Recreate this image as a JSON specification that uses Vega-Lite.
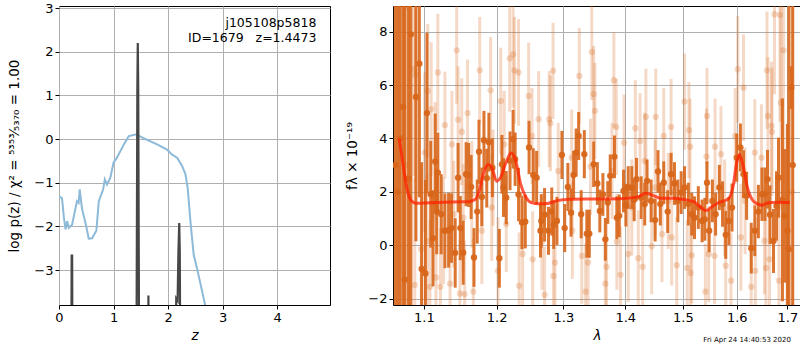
{
"$schema": "https://vega.github.io/schema/vega-lite/v6.json",
"background": "white",
"padding": {"left": 7, "top": 1, "right": 1, "bottom": 2},
"config": {
 "font": "DejaVu Sans",
 "view": {"stroke": "black", "strokeWidth": 1},
 "axis": {"grid": true, "gridColor": "#b0b0b0", "gridWidth": 1, "domain": false, "tickColor": "black", "tickSize": 4, "labelPadding": 2, "labelFlush": false, "labelFontSize": 13, "labelColor": "black", "titleFontSize": 13.5, "titleFontWeight": "normal", "titleColor": "black", "labelFont": "DejaVu Sans", "titleFont": "DejaVu Sans"},
 "concat": {"spacing": 14}
},
"datasets": {
 "pz": [
  {"z":0.0,"logp":-1.31},{"z":0.055,"logp":-1.35},{"z":0.09,"logp":-1.8},{"z":0.12,"logp":-2.07},{"z":0.15,"logp":-1.88},{"z":0.18,"logp":-2.03},{"z":0.24,"logp":-1.96},{"z":0.33,"logp":-1.42},{"z":0.36,"logp":-1.46},{"z":0.38,"logp":-1.15},{"z":0.42,"logp":-1.58},{"z":0.5,"logp":-2.0},{"z":0.545,"logp":-2.28},{"z":0.605,"logp":-2.27},{"z":0.685,"logp":-2.1},{"z":0.73,"logp":-1.42},{"z":0.81,"logp":-1.15},{"z":0.84,"logp":-0.92},{"z":0.88,"logp":-1.04},{"z":0.94,"logp":-0.89},{"z":1.0,"logp":-0.54},{"z":1.06,"logp":-0.43},{"z":1.19,"logp":-0.12},{"z":1.28,"logp":0.07},{"z":1.42,"logp":0.11},{"z":1.55,"logp":0.02},{"z":1.8,"logp":-0.12},{"z":1.98,"logp":-0.24},{"z":2.07,"logp":-0.35},{"z":2.17,"logp":-0.43},{"z":2.26,"logp":-0.62},{"z":2.32,"logp":-0.81},{"z":2.36,"logp":-1.12},{"z":2.41,"logp":-1.88},{"z":2.47,"logp":-2.65},{"z":2.53,"logp":-2.95},{"z":2.68,"logp":-3.8},{"z":2.75,"logp":-4.3}
 ],
 "spk": [
  {"z":0.0,"logp":-6},{"z":0.224,"logp":-6},{"z":0.232,"logp":-2.67},{"z":0.241,"logp":-2.67},{"z":0.249,"logp":-6},
  {"z":1.418,"logp":-6},{"z":1.437,"logp":1.2},{"z":1.445,"logp":2.2},{"z":1.453,"logp":1.2},{"z":1.472,"logp":-6},
  {"z":1.632,"logp":-6},{"z":1.64,"logp":-3.58},{"z":1.648,"logp":-6},
  {"z":2.13,"logp":-6},{"z":2.15,"logp":-3.65},{"z":2.175,"logp":-3.7},{"z":2.19,"logp":-2.6},{"z":2.205,"logp":-1.92},{"z":2.215,"logp":-2.6},{"z":2.228,"logp":-6},{"z":4.97,"logp":-6}
 ],
 "model": [
  {"lam":1.068,"f":4.0},{"lam":1.073,"f":3.0},{"lam":1.078,"f":2.1},{"lam":1.084,"f":1.65},{"lam":1.09,"f":1.57},{"lam":1.1,"f":1.58},{"lam":1.12,"f":1.6},{"lam":1.14,"f":1.62},{"lam":1.16,"f":1.63},{"lam":1.17,"f":1.72},{"lam":1.176,"f":2.1},{"lam":1.181,"f":2.65},{"lam":1.188,"f":3.02},{"lam":1.194,"f":2.85},{"lam":1.2,"f":2.4},{"lam":1.206,"f":2.55},{"lam":1.213,"f":3.05},{"lam":1.221,"f":3.45},{"lam":1.228,"f":3.15},{"lam":1.235,"f":2.3},{"lam":1.243,"f":1.8},{"lam":1.251,"f":1.6},{"lam":1.262,"f":1.55},{"lam":1.275,"f":1.56},{"lam":1.29,"f":1.67},{"lam":1.31,"f":1.72},{"lam":1.35,"f":1.73},{"lam":1.39,"f":1.74},{"lam":1.42,"f":1.8},{"lam":1.435,"f":1.95},{"lam":1.448,"f":1.86},{"lam":1.46,"f":1.76},{"lam":1.48,"f":1.76},{"lam":1.5,"f":1.72},{"lam":1.52,"f":1.62},{"lam":1.533,"f":1.42},{"lam":1.542,"f":1.3},{"lam":1.552,"f":1.42},{"lam":1.566,"f":1.6},{"lam":1.583,"f":1.72},{"lam":1.593,"f":2.2},{"lam":1.6,"f":3.1},{"lam":1.605,"f":3.4},{"lam":1.612,"f":3.0},{"lam":1.62,"f":2.2},{"lam":1.63,"f":1.7},{"lam":1.64,"f":1.55},{"lam":1.65,"f":1.5},{"lam":1.66,"f":1.58},{"lam":1.68,"f":1.61},{"lam":1.705,"f":1.6}
 ],
 "spec": [
  {"lam":1.063,"f":3.0,"e":30,"k":"d"},{"lam":1.066,"f":2.0,"e":30,"k":"d"},{"lam":1.069,"f":4.0,"e":30,"k":"d"},{"lam":1.073,"f":5.18,"e":30,"k":"d"},{"lam":1.075,"f":-1.29,"e":30,"k":"d"},{"lam":1.08,"f":2.5,"e":9,"k":"d"},{"lam":1.083,"f":7.9,"e":12,"k":"d"},{"lam":1.0895,"f":5.55,"e":5.4,"k":"d"},{"lam":1.094,"f":6.8,"e":5,"k":"d"},{"lam":1.097,"f":-0.89,"e":4,"k":"d"},{"lam":1.102,"f":-1.06,"e":3.5,"k":"d"},{"lam":1.104,"f":4.95,"e":3,"k":"d"},{"lam":1.109,"f":1.91,"e":2,"k":"d"},{"lam":1.112,"f":0.26,"e":1.8,"k":"d"},{"lam":1.115,"f":3.13,"e":1.8,"k":"d"},{"lam":1.117,"f":1.26,"e":1.6,"k":"d"},{"lam":1.1185,"f":2.72,"e":1.5,"k":"d"},{"lam":1.123,"f":1.16,"e":1.5,"k":"d"},{"lam":1.128,"f":0.54,"e":1.4,"k":"d"},{"lam":1.133,"f":0.56,"e":1.4,"k":"d"},{"lam":1.137,"f":0.64,"e":1.3,"k":"d"},{"lam":1.142,"f":-0.29,"e":1.3,"k":"d"},{"lam":1.146,"f":2.53,"e":1.3,"k":"d"},{"lam":1.149,"f":0.64,"e":1.2,"k":"d"},{"lam":1.153,"f":-0.28,"e":1.2,"k":"d"},{"lam":1.157,"f":2.66,"e":1.2,"k":"d"},{"lam":1.1605,"f":2.63,"e":1.2,"k":"d"},{"lam":1.164,"f":2.18,"e":1.2,"k":"d"},{"lam":1.168,"f":-0.46,"e":1.1,"k":"d"},{"lam":1.1725,"f":1.26,"e":1.2,"k":"d"},{"lam":1.175,"f":3.5,"e":1.2,"k":"d"},{"lam":1.179,"f":1.81,"e":1.1,"k":"d"},{"lam":1.182,"f":3.93,"e":1.1,"k":"d"},{"lam":1.186,"f":2.51,"e":1.1,"k":"d"},{"lam":1.189,"f":3.86,"e":1.1,"k":"d"},{"lam":1.194,"f":2.9,"e":1.1,"k":"d"},{"lam":1.204,"f":-0.49,"e":1.1,"k":"d"},{"lam":1.2077,"f":3.03,"e":1.1,"k":"d"},{"lam":1.21,"f":2.16,"e":1.1,"k":"d"},{"lam":1.214,"f":1.78,"e":1.0,"k":"d"},{"lam":1.2195,"f":3.16,"e":1.1,"k":"d"},{"lam":1.224,"f":3.97,"e":1.1,"k":"d"},{"lam":1.227,"f":3.22,"e":1.0,"k":"d"},{"lam":1.232,"f":1.9,"e":1.0,"k":"d"},{"lam":1.237,"f":0.85,"e":1.0,"k":"d"},{"lam":1.242,"f":0.88,"e":1.0,"k":"d"},{"lam":1.2476,"f":3.66,"e":1.0,"k":"d"},{"lam":1.254,"f":2.63,"e":1.0,"k":"d"},{"lam":1.259,"f":2.53,"e":1.0,"k":"d"},{"lam":1.2648,"f":0.54,"e":1.0,"k":"d"},{"lam":1.266,"f":0.91,"e":1.0,"k":"d"},{"lam":1.271,"f":1.14,"e":1.0,"k":"d"},{"lam":1.277,"f":0.54,"e":0.9,"k":"d"},{"lam":1.282,"f":1.26,"e":0.9,"k":"d"},{"lam":1.285,"f":0.76,"e":0.9,"k":"d"},{"lam":1.29,"f":0.91,"e":0.9,"k":"d"},{"lam":1.2977,"f":3.38,"e":0.9,"k":"d"},{"lam":1.302,"f":0.64,"e":0.9,"k":"d"},{"lam":1.307,"f":2.18,"e":0.9,"k":"d"},{"lam":1.312,"f":1.22,"e":0.9,"k":"d"},{"lam":1.316,"f":2.63,"e":0.9,"k":"d"},{"lam":1.32,"f":3.47,"e":0.9,"k":"d"},{"lam":1.324,"f":4.09,"e":0.9,"k":"d"},{"lam":1.328,"f":1.16,"e":0.9,"k":"d"},{"lam":1.333,"f":3.41,"e":0.9,"k":"d"},{"lam":1.337,"f":0.43,"e":0.9,"k":"d"},{"lam":1.341,"f":0.43,"e":0.9,"k":"d"},{"lam":1.348,"f":3.03,"e":0.85,"k":"d"},{"lam":1.354,"f":2.31,"e":0.8,"k":"d"},{"lam":1.358,"f":1.28,"e":0.8,"k":"d"},{"lam":1.363,"f":1.9,"e":0.8,"k":"d"},{"lam":1.367,"f":0.22,"e":0.8,"k":"d"},{"lam":1.371,"f":1.6,"e":0.8,"k":"d"},{"lam":1.375,"f":2.6,"e":0.8,"k":"d"},{"lam":1.382,"f":3.31,"e":0.8,"k":"d"},{"lam":1.386,"f":1.03,"e":0.8,"k":"d"},{"lam":1.39,"f":1.1,"e":0.8,"k":"d"},{"lam":1.397,"f":2.03,"e":0.8,"k":"d"},{"lam":1.401,"f":1.5,"e":0.8,"k":"d"},{"lam":1.405,"f":2.16,"e":0.8,"k":"d"},{"lam":1.411,"f":2.16,"e":0.8,"k":"d"},{"lam":1.415,"f":1.7,"e":0.8,"k":"d"},{"lam":1.419,"f":2.47,"e":0.8,"k":"d"},{"lam":1.427,"f":1.78,"e":0.8,"k":"d"},{"lam":1.433,"f":1.54,"e":0.8,"k":"d"},{"lam":1.437,"f":2.41,"e":0.8,"k":"d"},{"lam":1.444,"f":1.66,"e":0.8,"k":"d"},{"lam":1.451,"f":0.94,"e":0.8,"k":"d"},{"lam":1.456,"f":2.76,"e":0.8,"k":"d"},{"lam":1.46,"f":1.54,"e":0.8,"k":"d"},{"lam":1.466,"f":2.34,"e":0.8,"k":"d"},{"lam":1.473,"f":1.26,"e":0.8,"k":"d"},{"lam":1.479,"f":2.66,"e":0.8,"k":"d"},{"lam":1.485,"f":2.31,"e":0.8,"k":"d"},{"lam":1.491,"f":1.66,"e":0.8,"k":"d"},{"lam":1.497,"f":1.97,"e":0.8,"k":"d"},{"lam":1.503,"f":2.16,"e":0.8,"k":"d"},{"lam":1.51,"f":1.54,"e":0.8,"k":"d"},{"lam":1.516,"f":1.16,"e":0.8,"k":"d"},{"lam":1.521,"f":1.03,"e":0.8,"k":"d"},{"lam":1.528,"f":1.41,"e":0.8,"k":"d"},{"lam":1.535,"f":0.91,"e":0.8,"k":"d"},{"lam":1.54,"f":0.97,"e":0.8,"k":"d"},{"lam":1.544,"f":2.34,"e":0.8,"k":"d"},{"lam":1.548,"f":0.54,"e":0.8,"k":"d"},{"lam":1.554,"f":1.66,"e":0.8,"k":"d"},{"lam":1.56,"f":1.16,"e":0.8,"k":"d"},{"lam":1.567,"f":2.16,"e":0.85,"k":"d"},{"lam":1.573,"f":1.54,"e":0.85,"k":"d"},{"lam":1.579,"f":0.39,"e":0.9,"k":"d"},{"lam":1.585,"f":0.91,"e":0.9,"k":"d"},{"lam":1.591,"f":1.41,"e":0.9,"k":"d"},{"lam":1.6,"f":3.28,"e":0.9,"k":"d"},{"lam":1.607,"f":3.66,"e":0.9,"k":"d"},{"lam":1.613,"f":2.66,"e":0.9,"k":"d"},{"lam":1.619,"f":1.85,"e":0.9,"k":"d"},{"lam":1.628,"f":-0.11,"e":0.95,"k":"d"},{"lam":1.635,"f":0.54,"e":0.95,"k":"d"},{"lam":1.642,"f":1.26,"e":1.0,"k":"d"},{"lam":1.649,"f":1.91,"e":1.0,"k":"d"},{"lam":1.655,"f":1.91,"e":1.0,"k":"d"},{"lam":1.66,"f":2.47,"e":1.1,"k":"d"},{"lam":1.665,"f":1.14,"e":1.1,"k":"d"},{"lam":1.672,"f":0.16,"e":1.2,"k":"d"},{"lam":1.678,"f":1.47,"e":1.3,"k":"d"},{"lam":1.682,"f":2.53,"e":1.5,"k":"d"},{"lam":1.69,"f":1.7,"e":3.8,"k":"d"},{"lam":1.695,"f":1.1,"e":2.5,"k":"d"},{"lam":1.7,"f":0.54,"e":4,"k":"d"},{"lam":1.703,"f":-0.15,"e":12,"k":"d"},{"lam":1.708,"f":5.9,"e":0.8,"k":"d"},{"lam":1.711,"f":3.0,"e":30,"k":"d"},
  {"lam":1.07,"f":4.0,"e":20,"k":"l"},{"lam":1.077,"f":3.0,"e":15,"k":"l"},{"lam":1.079,"f":8.9,"e":20,"k":"l"},{"lam":1.087,"f":6.59,"e":4,"k":"l"},{"lam":1.088,"f":-1.49,"e":4,"k":"l"},{"lam":1.089,"f":6.38,"e":4,"k":"l"},{"lam":1.0965,"f":-0.15,"e":3,"k":"l"},{"lam":1.101,"f":3.47,"e":3,"k":"l"},{"lam":1.104,"f":0.16,"e":2.5,"k":"l"},{"lam":1.105,"f":5.78,"e":2.5,"k":"l"},{"lam":1.108,"f":-1.56,"e":2.5,"k":"l"},{"lam":1.1096,"f":5.1,"e":2.5,"k":"l"},{"lam":1.115,"f":3.16,"e":2.2,"k":"l"},{"lam":1.116,"f":-1.21,"e":2.2,"k":"l"},{"lam":1.1185,"f":6.47,"e":2.2,"k":"l"},{"lam":1.122,"f":-1.56,"e":2.2,"k":"l"},{"lam":1.126,"f":0.54,"e":2.0,"k":"l"},{"lam":1.128,"f":4.5,"e":2.0,"k":"l"},{"lam":1.135,"f":-1.44,"e":2.0,"k":"l"},{"lam":1.1375,"f":3.78,"e":2.0,"k":"l"},{"lam":1.14,"f":1.16,"e":2.0,"k":"l"},{"lam":1.144,"f":7.3,"e":2.0,"k":"l"},{"lam":1.146,"f":4.7,"e":2.0,"k":"l"},{"lam":1.1485,"f":-1.81,"e":2.0,"k":"l"},{"lam":1.151,"f":4.25,"e":2.0,"k":"l"},{"lam":1.153,"f":1.03,"e":2.0,"k":"l"},{"lam":1.155,"f":-1.83,"e":2.0,"k":"l"},{"lam":1.159,"f":4.95,"e":2.0,"k":"l"},{"lam":1.165,"f":1.91,"e":2.0,"k":"l"},{"lam":1.167,"f":-1.74,"e":2.0,"k":"l"},{"lam":1.176,"f":6.55,"e":2.0,"k":"l"},{"lam":1.179,"f":0.54,"e":2.0,"k":"l"},{"lam":1.1915,"f":5.8,"e":2.0,"k":"l"},{"lam":1.193,"f":1.41,"e":2.0,"k":"l"},{"lam":1.195,"f":2.53,"e":1.8,"k":"l"},{"lam":1.202,"f":-0.96,"e":2.0,"k":"l"},{"lam":1.206,"f":5.4,"e":2.0,"k":"l"},{"lam":1.211,"f":3.78,"e":2.0,"k":"l"},{"lam":1.214,"f":0.79,"e":1.8,"k":"l"},{"lam":1.219,"f":7.0,"e":2.0,"k":"l"},{"lam":1.224,"f":7.15,"e":2.0,"k":"l"},{"lam":1.226,"f":6.55,"e":2.0,"k":"l"},{"lam":1.232,"f":6.47,"e":2.0,"k":"l"},{"lam":1.233,"f":-1.52,"e":2.0,"k":"l"},{"lam":1.238,"f":-0.33,"e":2.0,"k":"l"},{"lam":1.247,"f":5.59,"e":2.0,"k":"l"},{"lam":1.252,"f":4.09,"e":1.8,"k":"l"},{"lam":1.253,"f":-0.53,"e":1.8,"k":"l"},{"lam":1.262,"f":4.72,"e":1.8,"k":"l"},{"lam":1.267,"f":0.13,"e":1.8,"k":"l"},{"lam":1.271,"f":-1.86,"e":1.8,"k":"l"},{"lam":1.278,"f":4.72,"e":1.8,"k":"l"},{"lam":1.28,"f":4.57,"e":1.8,"k":"l"},{"lam":1.284,"f":6.53,"e":1.8,"k":"l"},{"lam":1.2845,"f":-1.15,"e":1.8,"k":"l"},{"lam":1.287,"f":-0.65,"e":1.8,"k":"l"},{"lam":1.292,"f":2.78,"e":1.8,"k":"l"},{"lam":1.313,"f":3.28,"e":1.8,"k":"l"},{"lam":1.314,"f":0.54,"e":1.8,"k":"l"},{"lam":1.325,"f":6.34,"e":1.8,"k":"l"},{"lam":1.329,"f":-0.4,"e":1.8,"k":"l"},{"lam":1.335,"f":-1.74,"e":1.8,"k":"l"},{"lam":1.339,"f":-0.65,"e":1.8,"k":"l"},{"lam":1.343,"f":2.94,"e":1.8,"k":"l"},{"lam":1.345,"f":7.24,"e":1.8,"k":"l"},{"lam":1.348,"f":5.66,"e":1.8,"k":"l"},{"lam":1.35,"f":5.03,"e":1.8,"k":"l"},{"lam":1.367,"f":-1.44,"e":1.8,"k":"l"},{"lam":1.369,"f":-0.81,"e":1.8,"k":"l"},{"lam":1.378,"f":2.78,"e":1.8,"k":"l"},{"lam":1.381,"f":6.18,"e":1.8,"k":"l"},{"lam":1.385,"f":4.43,"e":1.8,"k":"l"},{"lam":1.386,"f":0.13,"e":1.8,"k":"l"},{"lam":1.392,"f":-1.11,"e":1.8,"k":"l"},{"lam":1.398,"f":3.84,"e":1.8,"k":"l"},{"lam":1.405,"f":-0.33,"e":1.8,"k":"l"},{"lam":1.411,"f":1.41,"e":1.8,"k":"l"},{"lam":1.417,"f":4.38,"e":1.8,"k":"l"},{"lam":1.422,"f":-0.49,"e":1.8,"k":"l"},{"lam":1.425,"f":3.9,"e":1.8,"k":"l"},{"lam":1.4295,"f":-0.81,"e":1.8,"k":"l"},{"lam":1.433,"f":3.16,"e":1.8,"k":"l"},{"lam":1.435,"f":4.81,"e":1.8,"k":"l"},{"lam":1.445,"f":-0.04,"e":1.8,"k":"l"},{"lam":1.451,"f":2.16,"e":1.8,"k":"l"},{"lam":1.452,"f":4.81,"e":1.8,"k":"l"},{"lam":1.463,"f":0.41,"e":1.8,"k":"l"},{"lam":1.466,"f":4.09,"e":1.8,"k":"l"},{"lam":1.474,"f":1.66,"e":1.8,"k":"l"},{"lam":1.479,"f":4.43,"e":1.8,"k":"l"},{"lam":1.48,"f":0.29,"e":1.8,"k":"l"},{"lam":1.489,"f":-0.75,"e":1.8,"k":"l"},{"lam":1.503,"f":5.38,"e":1.8,"k":"l"},{"lam":1.508,"f":-0.85,"e":1.8,"k":"l"},{"lam":1.511,"f":4.31,"e":1.8,"k":"l"},{"lam":1.513,"f":3.69,"e":1.8,"k":"l"},{"lam":1.514,"f":-1.04,"e":1.8,"k":"l"},{"lam":1.516,"f":-0.38,"e":1.8,"k":"l"},{"lam":1.541,"f":-1.74,"e":1.8,"k":"l"},{"lam":1.543,"f":3.32,"e":1.8,"k":"l"},{"lam":1.544,"f":4.84,"e":1.8,"k":"l"},{"lam":1.547,"f":-0.33,"e":1.8,"k":"l"},{"lam":1.558,"f":-0.4,"e":1.8,"k":"l"},{"lam":1.559,"f":3.69,"e":1.8,"k":"l"},{"lam":1.57,"f":3.41,"e":1.8,"k":"l"},{"lam":1.577,"f":1.41,"e":1.8,"k":"l"},{"lam":1.579,"f":-0.77,"e":1.8,"k":"l"},{"lam":1.589,"f":-1.33,"e":1.8,"k":"l"},{"lam":1.597,"f":4.09,"e":1.8,"k":"l"},{"lam":1.602,"f":6.59,"e":2.0,"k":"l"},{"lam":1.608,"f":0.29,"e":2.0,"k":"l"},{"lam":1.613,"f":5.9,"e":2.0,"k":"l"},{"lam":1.616,"f":1.66,"e":2.0,"k":"l"},{"lam":1.628,"f":-1.56,"e":2.0,"k":"l"},{"lam":1.635,"f":3.47,"e":2.0,"k":"l"},{"lam":1.636,"f":-0.96,"e":2.0,"k":"l"},{"lam":1.648,"f":3.28,"e":2.0,"k":"l"},{"lam":1.654,"f":0.16,"e":2.0,"k":"l"},{"lam":1.657,"f":-0.85,"e":2.2,"k":"l"},{"lam":1.659,"f":6.55,"e":2.2,"k":"l"},{"lam":1.661,"f":4.84,"e":2.2,"k":"l"},{"lam":1.664,"f":-0.53,"e":2.2,"k":"l"},{"lam":1.668,"f":4.47,"e":2.4,"k":"l"},{"lam":1.669,"f":4.25,"e":2.4,"k":"l"},{"lam":1.674,"f":8.65,"e":3,"k":"l"},{"lam":1.683,"f":-1.33,"e":3,"k":"l"},{"lam":1.685,"f":8.62,"e":4,"k":"l"},{"lam":1.687,"f":5.34,"e":4,"k":"l"},{"lam":1.692,"f":7.3,"e":5,"k":"l"},{"lam":1.709,"f":2.0,"e":20,"k":"l"}
 ]
},
"hconcat": [
 {
  "width": 271, "height": 299,
  "layer": [
   {"data": {"name": "pz"},
    "mark": {"type": "line", "color": "#8dbad9", "strokeWidth": 2, "clip": true},
    "encoding": {
     "x": {"field": "z", "type": "quantitative", "title": "z", "scale": {"domain": [0, 4.97], "nice": false, "zero": false}, "axis": {"values": [0,1,2,3,4], "titleFontStyle": "italic", "titlePadding": 4}},
     "y": {"field": "logp", "type": "quantitative", "title": "log p(z) / χ² = ⁵³⁵³⁄₅₃₇₀ = 1.00", "scale": {"domain": [-3.8, 3.05], "nice": false, "zero": false}, "axis": {"values": [-3,-2,-1,0,1,2,3], "titlePadding": 12}}
    }},
   {"data": {"name": "spk"},
    "mark": {"type": "line", "color": "#474747", "strokeWidth": 2.2, "clip": true},
    "encoding": {
     "x": {"field": "z", "type": "quantitative", "title": "z"},
     "y": {"field": "logp", "type": "quantitative", "title": "log p(z) / χ² = ⁵³⁵³⁄₅₃₇₀ = 1.00"}
    }},
   {"data": {"values": [{"t": "j105108p5818", "yy": 2.66}, {"t": "ID=1679\u00a0\u00a0\u00a0z=1.4473", "yy": 2.32}]},
    "mark": {"type": "text", "align": "right", "baseline": "middle", "fontSize": 12.5, "color": "black"},
    "encoding": {
     "x": {"datum": 4.72},
     "y": {"field": "yy", "type": "quantitative", "title": "log p(z) / χ² = ⁵³⁵³⁄₅₃₇₀ = 1.00"},
     "text": {"field": "t"}
    }}
  ]
 },
 {
  "width": 408, "height": 299,
  "layer": [
   {"data": {"name": "spec"}, "transform": [{"filter": "datum.k == 'l'"}],
    "mark": {"type": "errorbar", "color": "#d8661a", "opacity": 0.25, "thickness": 3, "clip": true},
    "encoding": {
     "x": {"field": "lam", "type": "quantitative", "title": "λ", "scale": {"type": "log", "domain": [1.06, 1.728], "nice": false}, "axis": {"values": [1.1,1.2,1.3,1.4,1.5,1.6,1.7], "format": ".1f", "titleFontStyle": "italic", "titlePadding": 4}},
     "y": {"field": "f", "type": "quantitative", "title": "fλ × 10⁻¹⁹", "scale": {"domain": [-2.24, 8.96], "nice": false, "zero": false}, "axis": {"values": [-2,0,2,4,6,8], "titlePadding": 8}},
     "yError": {"field": "e"}
    }},
   {"data": {"name": "spec"}, "transform": [{"filter": "datum.k == 'l'"}],
    "mark": {"type": "circle", "color": "#d8661a", "opacity": 0.25, "size": 40, "clip": true},
    "encoding": {
     "x": {"field": "lam", "type": "quantitative", "title": "λ"},
     "y": {"field": "f", "type": "quantitative", "title": "fλ × 10⁻¹⁹"}
    }},
   {"data": {"name": "spec"}, "transform": [{"filter": "datum.k == 'd'"}],
    "mark": {"type": "errorbar", "color": "#d8661a", "opacity": 0.9, "thickness": 3, "clip": true},
    "encoding": {
     "x": {"field": "lam", "type": "quantitative", "title": "λ"},
     "y": {"field": "f", "type": "quantitative", "title": "fλ × 10⁻¹⁹"},
     "yError": {"field": "e"}
    }},
   {"data": {"name": "spec"}, "transform": [{"filter": "datum.k == 'd'"}],
    "mark": {"type": "circle", "color": "#d8661a", "opacity": 0.95, "size": 40, "clip": true},
    "encoding": {
     "x": {"field": "lam", "type": "quantitative", "title": "λ"},
     "y": {"field": "f", "type": "quantitative", "title": "fλ × 10⁻¹⁹"}
    }},
   {"data": {"name": "model"},
    "mark": {"type": "line", "color": "#ff2000", "opacity": 0.75, "strokeWidth": 3, "interpolate": "monotone", "clip": true},
    "encoding": {
     "x": {"field": "lam", "type": "quantitative", "title": "λ"},
     "y": {"field": "f", "type": "quantitative", "title": "fλ × 10⁻¹⁹"}
    }},
   {"mark": {"type": "rule", "color": "black", "strokeDash": [2, 3], "strokeWidth": 2},
    "encoding": {"y": {"datum": 0}}},
   {"data": {"values": [{"t": "Fri Apr 24 14:40:53 2020"}]},
    "mark": {"type": "text", "fontSize": 7, "align": "center", "baseline": "middle", "color": "black"},
    "encoding": {"x": {"datum": 1.62}, "y": {"datum": -3.55}, "text": {"field": "t"}}}
  ]
 }
]
}
